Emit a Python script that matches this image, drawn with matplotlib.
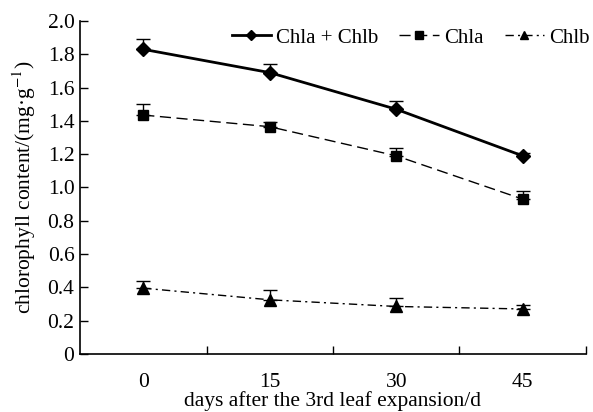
import numpy as np
import matplotlib
matplotlib.use('Agg')
import matplotlib.pyplot as plt
from matplotlib.ticker import FuncFormatter

days = ['0', '15', '30', '45']
total = [1.83, 1.69, 1.47, 1.19]
total_err = [0.06, 0.05, 0.05, 0.02]
chla = [1.435, 1.365, 1.19, 0.93]
chla_err = [0.065, 0.03, 0.05, 0.05]
chlb = [0.395, 0.325, 0.285, 0.27]
chlb_err = [0.045, 0.06, 0.05, 0.025]

plt.rcParams['font.family'] = ['Liberation Serif', 'DejaVu Serif']
plt.rcParams['mathtext.fontset'] = 'stix'

fig = plt.figure(figsize=(5.93, 4.12), dpi=100)
ax = fig.add_axes([0.135, 0.141, 0.853, 0.808])

x = np.arange(len(days))
zeros = np.zeros(len(days))

series = [
    (total, total_err, 2, '-', 'D', 7, 'Chla + Chlb'),
    (chla, chla_err, 1, (0, (8, 4)), 's', 7, 'Chla'),
    (chlb, chlb_err, 1, (0, (6, 3, 1.5, 3)), '^', 8, 'Chlb'),
]
for vals, err, lw, ls, mk, ms, lab in series:
    ax.errorbar(x, vals, yerr=[zeros, err], fmt='none', ecolor='black',
                capsize=5, elinewidth=1, capthick=1)
    ax.plot(x, vals, color='black', lw=lw, ls=ls, marker=mk, ms=ms, label=lab)

ax.set_xlim(-0.5, 3.5)
ax.set_ylim(0, 2.0)
ax.set_yticks(np.arange(0, 2.01, 0.2))
ax.yaxis.set_major_formatter(FuncFormatter(lambda v, p: '0' if abs(v) < 1e-9 else '%.1f' % v))
ax.set_xticks(x)
ax.set_xticklabels(days)
ax.set_xticks([0.5, 1.5, 2.5, 3.5], minor=True)
ax.tick_params(axis='x', which='major', length=0, labelsize=15.5, pad=14)
ax.tick_params(axis='x', which='minor', direction='in', length=6, width=1)
ax.tick_params(axis='y', direction='in', length=6, width=1, labelsize=15.5, pad=4)

for s in ['top', 'right']:
    ax.spines[s].set_visible(False)
for s in ['left', 'bottom']:
    ax.spines[s].set_linewidth(1.2)

ax.set_xlabel('days after the 3rd leaf expansion/d', fontsize=15.5, labelpad=-1)
ax.set_ylabel('chlorophyll content/(mg·g$^{-1}$)', fontsize=15.5, labelpad=7)

ax.legend(loc='upper right', bbox_to_anchor=(1.045, 1.035), ncol=3, frameon=False, fontsize=15,
          handlelength=1.9, handletextpad=0.25, columnspacing=1.0, markerscale=0.8)

fig.savefig('out.png', dpi=100)
